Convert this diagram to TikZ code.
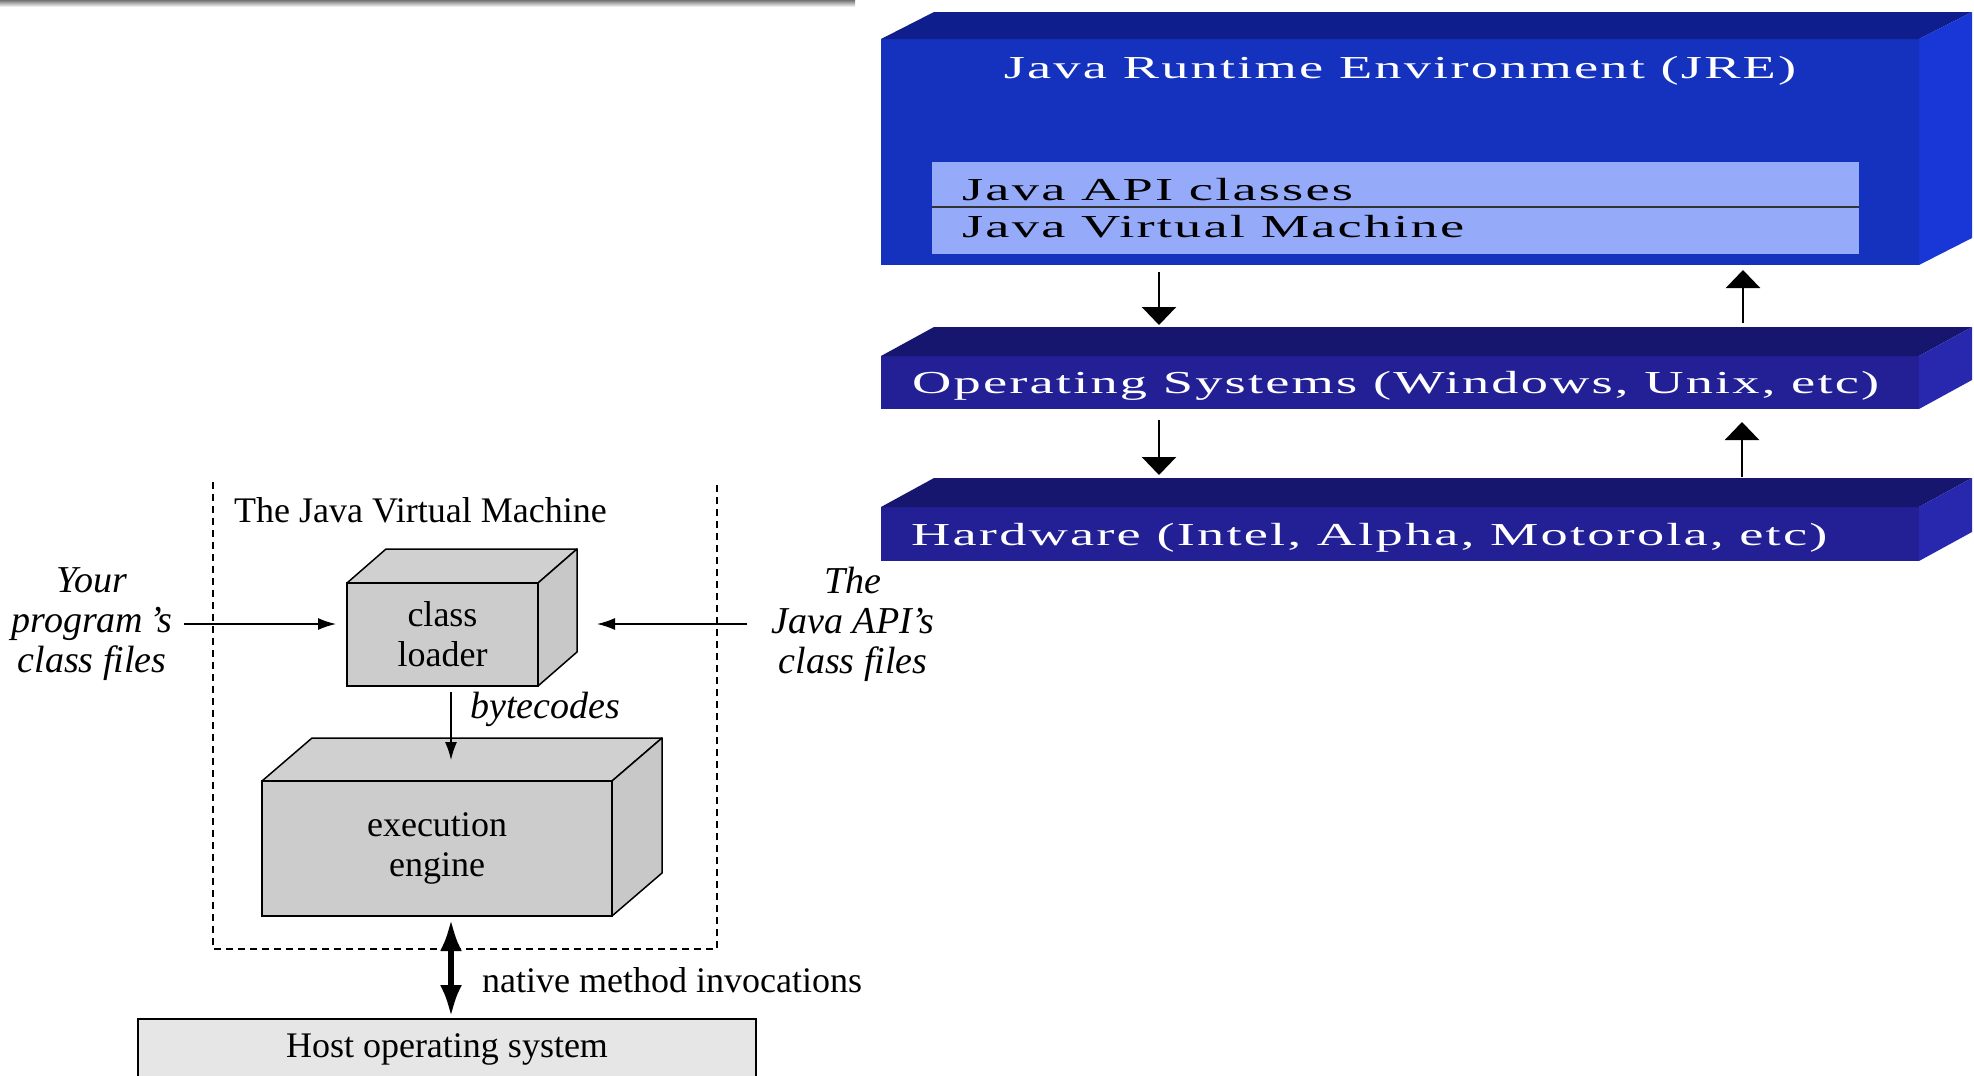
\documentclass[tikz,border=0pt]{standalone}
\usepackage{fontspec}
\usepackage{graphicx}
\setmainfont{Liberation Serif}
\newfontfamily\widefont[LetterSpace=4]{Liberation Serif}
\usetikzlibrary{arrows.meta,calc}
\definecolor{jrefront}{HTML}{1432BE}
\definecolor{jretop}{HTML}{0E1E8C}
\definecolor{jreside}{HTML}{1937D7}
\definecolor{osfront}{HTML}{232096}
\definecolor{ostop}{HTML}{16166E}
\definecolor{osside}{HTML}{2828AF}
\definecolor{apifill}{HTML}{96AAFA}
\definecolor{cubefront}{HTML}{CCCCCC}
\definecolor{cubetop}{HTML}{D0D0D0}
\definecolor{cubeside}{HTML}{C8C8C8}
\definecolor{hostfill}{HTML}{E6E6E6}
\newcommand{\wt}[1]{\scalebox{1.7}[1]{\widefont #1}}
\begin{document}
\begin{tikzpicture}[x=1pt,y=-1pt,
  facebox/.style={rectangle, inner sep=0pt, outer sep=0pt, anchor=north west},
  widetxt/.style={font=\fontsize{32}{36}\selectfont, inner sep=0pt, text=white},
  lefttxt/.style={font=\fontsize{36}{40}\selectfont, inner sep=4pt},
  itxt/.style={lefttxt, font=\fontsize{38}{40}\selectfont\itshape, align=center},
  cubeface/.style={draw=black, line width=1.5pt, line join=round},
  cubefrontstyle/.style={facebox, fill=cubefront, draw=black, line width=2.5pt, align=center, font=\fontsize{36}{40}\selectfont},
  bigarr/.style={line width=2.5pt, -{Triangle[length=18pt,width=34pt]}},
  smallarr/.style={line width=1.5pt, -{Latex[length=18pt,width=12pt]}},
  nativearr/.style={line width=6pt, {Latex[length=32pt,width=22pt]}-{Latex[length=32pt,width=22pt]}},
  frame/.style={line width=1.5pt, dash pattern=on 7pt off 5pt}
]
\useasboundingbox (0,0) rectangle (1974,1076);
\clip (0,0) rectangle (1974,1076);

% top gray line
\shade[top color=black!55, bottom color=white] (0,0) rectangle (855,7);

% ---------- right side: layered boxes ----------
\node[facebox, fill=jrefront, minimum width=1038pt, minimum height=226pt] (jre) at (881,39) {};
\fill[jretop] (jre.north west) -- ++(53,-27) -- ($(jre.north east)+(53,-27)$) -- (jre.north east) -- cycle;
\fill[jreside] (jre.north east) -- ++(53,-27) -- ($(jre.south east)+(53,-27)$) -- (jre.south east) -- cycle;

\node[facebox, fill=apifill, minimum width=927pt, minimum height=45pt] (apibox) at (932,162) {};
\node[facebox, fill=apifill, minimum width=927pt, minimum height=47pt] (jvmbox) at (932,207) {};
\draw[line width=1.5pt, black!80] (apibox.south west) -- (apibox.south east);

\node[widetxt, anchor=base] (jretitle) at (1400,78) {\wt{Java Runtime Environment (JRE)}};
\node[widetxt, text=black, anchor=base west] (apitext) at (962,200) {\wt{Java API classes}};
\node[widetxt, text=black, anchor=base west] (jvmtext) at (962,237) {\wt{Java Virtual Machine}};

\node[facebox, fill=osfront, minimum width=1038pt, minimum height=53pt] (os) at (881,356) {};
\fill[ostop] (os.north west) -- ++(53,-29) -- ($(os.north east)+(53,-29)$) -- (os.north east) -- cycle;
\fill[osside] (os.north east) -- ++(53,-29) -- ($(os.south east)+(53,-29)$) -- (os.south east) -- cycle;
\node[widetxt, anchor=base west] (ostext) at (912,393) {\wt{Operating Systems (Windows, Unix, etc)}};

\node[facebox, fill=osfront, minimum width=1038pt, minimum height=54pt] (hw) at (881,507) {};
\fill[ostop] (hw.north west) -- ++(53,-29) -- ($(hw.north east)+(53,-29)$) -- (hw.north east) -- cycle;
\fill[osside] (hw.north east) -- ++(53,-29) -- ($(hw.south east)+(53,-29)$) -- (hw.south east) -- cycle;
\node[widetxt, anchor=base west] (hwtext) at (911,545) {\wt{Hardware (Intel, Alpha, Motorola, etc)}};

\draw[bigarr] ($(jre.south west)+(278,7)$) -- ($(os.north west)+(278,-31)$);
\draw[bigarr] ($(os.north west)+(862,-33)$) -- ($(jre.south west)+(862,5)$);
\draw[bigarr] ($(os.south west)+(278,11)$) -- ($(hw.north west)+(278,-32)$);
\draw[bigarr] ($(hw.north west)+(861,-30)$) -- ($(os.south west)+(861,13)$);

% ---------- left side: JVM ----------
\draw[frame] (213,482) -- (213,949) -- (717,949) -- (717,482);
\node[lefttxt, anchor=base west, inner sep=0pt] (jvmtitle) at (234,522) {The Java Virtual Machine};

% class loader cube
\node[cubefrontstyle, minimum width=191pt, minimum height=103pt] (cl) at (347,583) {class\\loader};
\filldraw[cubeface, fill=cubetop] (cl.north west) -- ++(39,-34) -- ($(cl.north east)+(39,-34)$) -- (cl.north east) -- cycle;
\filldraw[cubeface, fill=cubeside] (cl.north east) -- ++(39,-34) -- ($(cl.south east)+(39,-34)$) -- (cl.south east) -- cycle;
\draw[line width=2.5pt] (cl.north west) rectangle (cl.south east);

% execution engine cube
\node[cubefrontstyle, minimum width=350pt, minimum height=135pt] (ee) at (262,781) {execution\\engine};
\filldraw[cubeface, fill=cubetop] (ee.north west) -- ++(50,-43) -- ($(ee.north east)+(50,-43)$) -- (ee.north east) -- cycle;
\filldraw[cubeface, fill=cubeside] (ee.north east) -- ++(50,-43) -- ($(ee.south east)+(50,-43)$) -- (ee.south east) -- cycle;
\draw[line width=2.5pt] (ee.north west) rectangle (ee.south east);

% side labels
\node[itxt] (yours) at (92,624) {Your\\program\,’s\\class files};
\node[itxt] (apis) at (853,624) {The\\Java API’s\\class files};
\draw[smallarr, shorten <=8pt, shorten >=11pt] (yours.east) -- (yours.east -| cl.west);
\draw[smallarr, shorten <=20pt, shorten >=59pt] (apis.west) -- (apis.west -| cl.east);

% bytecodes
\draw[smallarr] ($(cl.south)+(8.5,6)$) -- ($(ee.north)+(14,-21)$);
\node[lefttxt, font=\fontsize{38}{40}\selectfont\itshape, anchor=base west, inner sep=0pt] (bclabel) at (470,718) {bytecodes};

% host OS
\node[facebox, fill=hostfill, draw=black, line width=2pt, minimum width=618pt, minimum height=61pt, font=\fontsize{36}{40}\selectfont] (host) at (138,1019) {Host operating system};
\draw[nativearr] ($(ee.south)+(14,3)$) -- ($(host.north)+(4,-2)$);
\node[lefttxt, anchor=base west, inner sep=0pt] (nativelabel) at (482,992) {native method invocations};
\end{tikzpicture}
\end{document}
